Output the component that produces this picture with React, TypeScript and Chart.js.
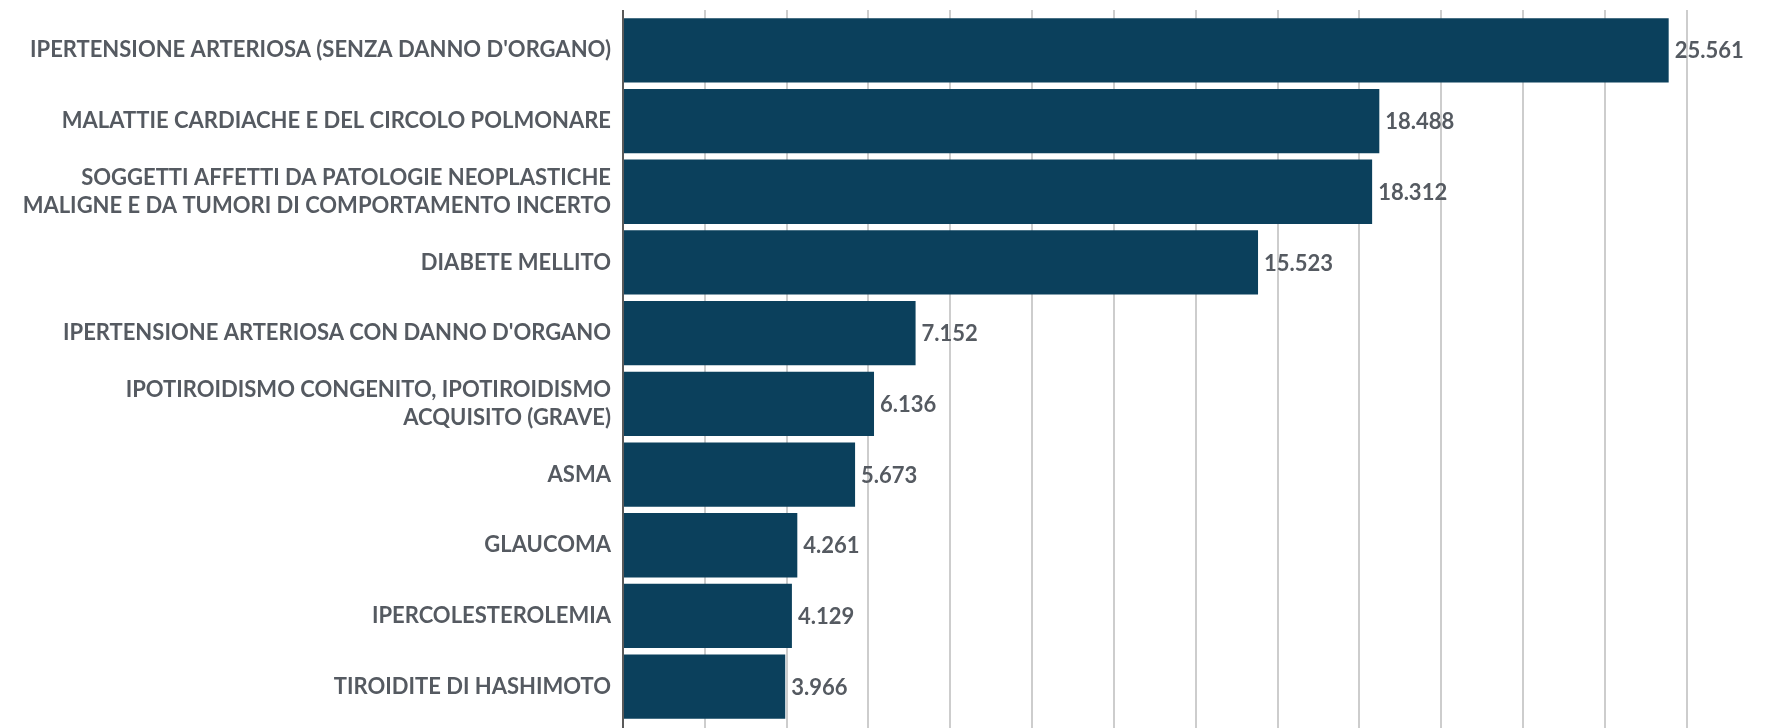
import React, { useEffect, useRef } from "react";
import { Chart, registerables } from "chart.js";

Chart.register(...registerables);

const categories: (string | string[])[] = [
  "IPERTENSIONE ARTERIOSA (SENZA DANNO D'ORGANO)",
  "MALATTIE CARDIACHE E DEL CIRCOLO POLMONARE",
  ["SOGGETTI AFFETTI DA PATOLOGIE NEOPLASTICHE", "MALIGNE E DA TUMORI DI COMPORTAMENTO INCERTO"],
  "DIABETE MELLITO",
  "IPERTENSIONE ARTERIOSA CON DANNO D'ORGANO",
  ["IPOTIROIDISMO CONGENITO, IPOTIROIDISMO", "ACQUISITO (GRAVE)"],
  "ASMA",
  "GLAUCOMA",
  "IPERCOLESTEROLEMIA",
  "TIROIDITE DI HASHIMOTO",
];

const values: number[] = [25561, 18488, 18312, 15523, 7152, 6136, 5673, 4261, 4129, 3966];

// x-axis gridline tick values (labels hidden in the original)
const gridTicks: number[] = [0, 2000, 4000, 6000, 8000, 10000, 12000, 14000, 16000, 18000, 20000, 22000, 24000, 26000];

const axisMax = 27500;

const BAR_COLOR = "#0b405c";
const TEXT_COLOR = "#555a61";
const GRID_COLOR = "#cdcdcd";
const AXIS_COLOR = "#5a5a5a";
const FONT_FAMILY = "Lato, 'Open Sans', sans-serif";

function formatIt(v: number): string {
  return String(v).replace(/\B(?=(\d{3})+(?!\d))/g, ".");
}

const gridPlugin = {
  id: "gridLines",
  beforeDatasetsDraw(chart: any) {
    const ctx = chart.ctx;
    const xs = chart.scales.x;
    ctx.save();
    gridTicks.forEach((v) => {
      if (v === 0) return;
      const x = Math.round(xs.getPixelForValue(v));
      ctx.strokeStyle = GRID_COLOR;
      ctx.lineWidth = 2;
      ctx.beginPath();
      ctx.moveTo(x, 10);
      ctx.lineTo(x, chart.height);
      ctx.stroke();
    });
    ctx.restore();
  },
  afterDatasetsDraw(chart: any) {
    const ctx = chart.ctx;
    const xs = chart.scales.x;
    const x0 = Math.round(xs.getPixelForValue(gridTicks[0]));
    ctx.save();
    ctx.strokeStyle = AXIS_COLOR;
    ctx.lineWidth = 2;
    ctx.beginPath();
    ctx.moveTo(x0, 10);
    ctx.lineTo(x0, chart.height);
    ctx.stroke();
    ctx.restore();
  },
};

const valueLabelPlugin = {
  id: "valueLabels",
  afterDatasetsDraw(chart: any) {
    const ctx = chart.ctx;
    const meta = chart.getDatasetMeta(0);
    ctx.save();
    ctx.font = `bold 22px ${FONT_FAMILY}`;
    ctx.fillStyle = TEXT_COLOR;
    ctx.textAlign = "left";
    ctx.textBaseline = "middle";
    meta.data.forEach((bar: any, i: number) => {
      ctx.fillText(formatIt(values[i]), bar.x + 6, bar.y + 1);
    });
    ctx.restore();
  },
};

export default function App() {
  const canvasRef = useRef<HTMLCanvasElement | null>(null);

  useEffect(() => {
    if (!canvasRef.current) return;
    const chart = new Chart(canvasRef.current, {
      type: "bar",
      data: {
        labels: categories,
        datasets: [
          {
            data: values,
            backgroundColor: BAR_COLOR,
            borderWidth: 0,
            categoryPercentage: 1,
            barPercentage: 0.91,
          },
        ],
      },
      options: {
        indexAxis: "y",
        animation: false,
        responsive: false,
        maintainAspectRatio: false,
        layout: { padding: { left: 0, right: 18, top: 15, bottom: 6 } },
        plugins: {
          legend: { display: false },
          tooltip: { enabled: false },
        },
        scales: {
          x: {
            type: "linear",
            position: "bottom",
            min: 0,
            max: axisMax,
            ticks: { display: false },
            grid: { display: false, drawTicks: false },
            border: { display: false },
          },
          y: {
            type: "category",
            position: "left",
            afterFit: (scale: any) => {
              scale.width = 623;
              scale.paddingTop = 0;
              scale.paddingBottom = 0;
            },
            grid: { display: false, drawTicks: false },
            border: { display: false },
            ticks: {
              color: TEXT_COLOR,
              padding: 12,
              font: { family: FONT_FAMILY, size: 22, weight: "bold", lineHeight: 1.25 },
              autoSkip: false,
            },
          },
        },
      },
      plugins: [gridPlugin, valueLabelPlugin],
    });
    return () => chart.destroy();
  }, []);

  return (
    <div
      style={{
        position: "fixed",
        left: 0,
        top: 0,
        width: 1766,
        height: 728,
        overflow: "hidden",
        background: "#ffffff",
      }}
    >
      <canvas ref={canvasRef} width={1766} height={728} style={{ display: "block" }} />
    </div>
  );
}
